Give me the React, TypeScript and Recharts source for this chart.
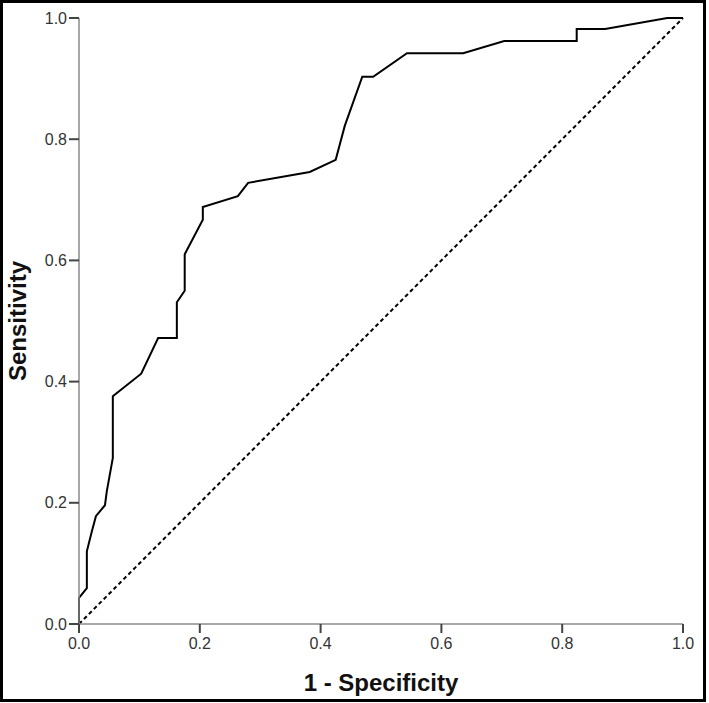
import React from "react";
import {
  LineChart,
  Line,
  XAxis,
  YAxis,
  ReferenceLine,
  Label,
} from "recharts";

// ROC curve points
const fpr = [
  0, 0, 0.013, 0.013, 0.021, 0.028, 0.043, 0.046, 0.056, 0.056, 0.103, 0.131,
  0.162, 0.162, 0.175, 0.175, 0.205, 0.205, 0.263, 0.28, 0.382, 0.425, 0.44,
  0.469, 0.487, 0.543, 0.636, 0.704, 0.824, 0.824, 0.871, 0.974, 1.0,
];
const tpr = [
  0, 0.043, 0.059, 0.12, 0.152, 0.178, 0.196, 0.219, 0.274, 0.376, 0.413,
  0.472, 0.472, 0.531, 0.55, 0.61, 0.667, 0.688, 0.706, 0.728, 0.746, 0.766,
  0.822, 0.903, 0.903, 0.942, 0.942, 0.962, 0.962, 0.982, 0.982, 1.0, 1.0,
];
const ticks = [0, 0.2, 0.4, 0.6, 0.8, 1.0];
const diagonal = [
  { x: 0, y: 0 },
  { x: 1, y: 1 },
];

const data = fpr.map((x, i) => ({ x, y: tpr[i] }));

const font = "'Liberation Sans', Arial, sans-serif";
const axisColor = "#8a8a8a";
const tickText = { fill: "#333", fontSize: 16, fontFamily: font };
const tickLine = { stroke: "#444", strokeWidth: 2 };

function YTitle(props: any) {
  const vb = props.viewBox || { x: 0, y: 0, height: 0 };
  const cy = vb.y + vb.height / 2;
  return (
    <text
      x={14}
      y={cy}
      transform={`rotate(-90, 14, ${cy})`}
      textAnchor="middle"
      dominantBaseline="central"
      fontFamily={font}
      fontWeight="bold"
      fontSize={24}
      fill="#111"
    >
      Sensitivity
    </text>
  );
}

function XTitle(props: any) {
  const vb = props.viewBox || { x: 0, y: 0, width: 0 };
  return (
    <text
      x={vb.x + vb.width / 2}
      y={688}
      textAnchor="middle"
      fontFamily={font}
      fontWeight="bold"
      fontSize={24}
      fill="#111"
    >
      1 - Specificity
    </text>
  );
}

export default function App() {
  return (
    <div
      style={{
        position: "absolute",
        left: 0,
        top: 0,
        width: 706,
        height: 702,
        boxSizing: "border-box",
        border: "3px solid #000",
        background: "#fff",
      }}
    >
      <LineChart
        width={700}
        height={696}
        data={data}
        margin={{ top: 15, right: 20, bottom: 0, left: 0 }}
      >
        <XAxis
          type="number"
          dataKey="x"
          domain={[0, 1]}
          ticks={ticks}
          tickFormatter={(v: number) => v.toFixed(1)}
          height={75}
          tickSize={9}
          tickMargin={5}
          stroke={axisColor}
          strokeWidth={1.5}
          tickLine={tickLine}
          tick={tickText}
        >
          <Label content={XTitle} />
        </XAxis>
        <YAxis
          type="number"
          dataKey="y"
          domain={[0, 1]}
          ticks={ticks}
          tickFormatter={(v: number) => v.toFixed(1)}
          width={76}
          tickSize={10}
          tickMargin={2}
          stroke={axisColor}
          strokeWidth={1.5}
          tickLine={tickLine}
          tick={tickText}
        >
          <Label content={YTitle} />
        </YAxis>
        <ReferenceLine
          segment={diagonal}
          stroke="#000"
          strokeWidth={2}
          strokeDasharray="4 3"
        />
        <Line
          type="linear"
          dataKey="y"
          stroke="#000"
          strokeWidth={2}
          dot={false}
          isAnimationActive={false}
        />
      </LineChart>
    </div>
  );
}
